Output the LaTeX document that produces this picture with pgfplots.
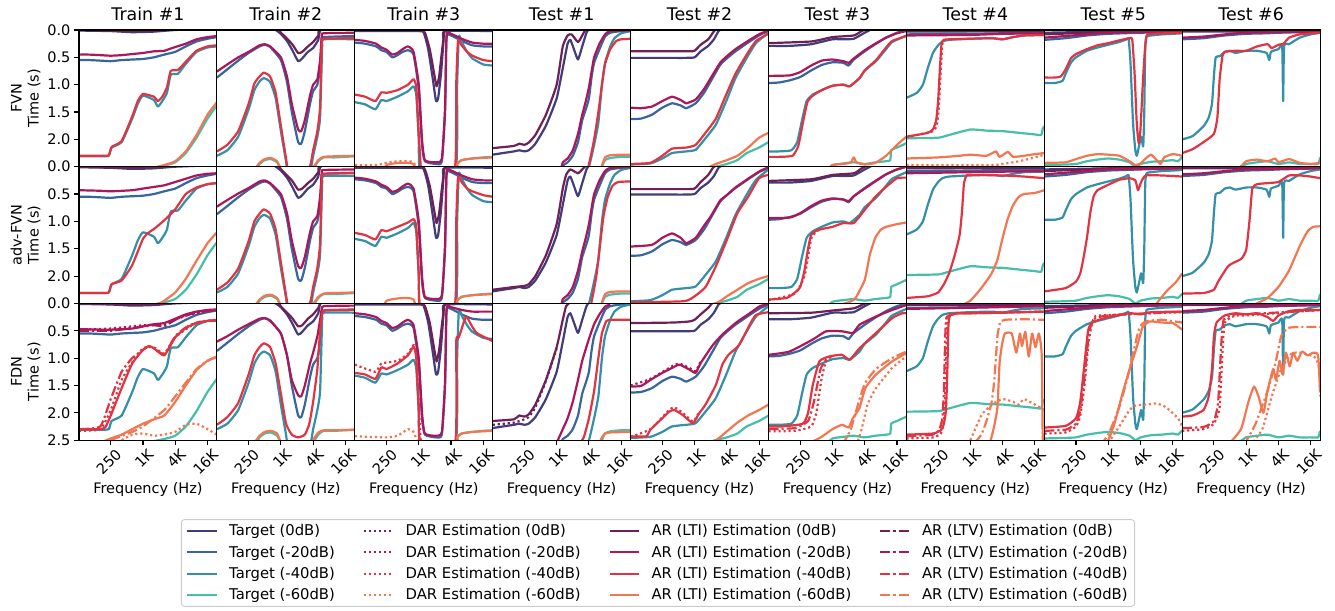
\documentclass[border=0pt]{standalone}
\usepackage{fontspec}
\setmainfont{DejaVu Sans}
\setsansfont{DejaVu Sans}
\usepackage{pgfplots}
\pgfplotsset{compat=1.18}
\pgfkeys{/pgf/number format/assume math mode=true}
\definecolor{cT0}{HTML}{413D7B}
\definecolor{cT1}{HTML}{37659E}
\definecolor{cT2}{HTML}{348FA7}
\definecolor{cT3}{HTML}{45BFAA}
\definecolor{cE0}{HTML}{701F57}
\definecolor{cE1}{HTML}{AD1759}
\definecolor{cE2}{HTML}{E13342}
\definecolor{cE3}{HTML}{F37651}
\newcommand\fnt{\fontsize{14.5}{17}\selectfont}
\tikzset{
 zBase/.style={line width=2.2pt,line join=round,smooth,tension=0.3},
 zT0/.style={zBase,color=cT0},zT1/.style={zBase,color=cT1},
 zT2/.style={zBase,color=cT2},zT3/.style={zBase,color=cT3},
 zD0/.style={zBase,color=cE0,dash pattern=on 2.2pt off 2.8pt},
 zD1/.style={zBase,color=cE1,dash pattern=on 2.2pt off 2.8pt},
 zD2/.style={zBase,color=cE2,dash pattern=on 2.2pt off 2.8pt},
 zD3/.style={zBase,color=cE3,dash pattern=on 2.2pt off 2.8pt},
 zE0/.style={zBase,color=cE0},zE1/.style={zBase,color=cE1},
 zE2/.style={zBase,color=cE2},zE3/.style={zBase,color=cE3},
 zV0/.style={zBase,color=cE0,dash pattern=on 10pt off 3pt on 2.2pt off 3pt},
 zV1/.style={zBase,color=cE1,dash pattern=on 10pt off 3pt on 2.2pt off 3pt},
 zV2/.style={zBase,color=cE2,dash pattern=on 10pt off 3pt on 2.2pt off 3pt},
 zV3/.style={zBase,color=cE3,dash pattern=on 10pt off 3pt on 2.2pt off 3pt},
}
\newcommand\PB[3]{\begin{semilogxaxis}[xmin=64, xmax=24000, ymin=0, ymax=2.5, y dir=reverse,
   scale only axis, width=137.9pt, height=136.7pt, at={(#1pt,#2pt)}, anchor=north west,
   axis on top, axis line style={line width=1.1pt,black},
   tick style={line width=1.1pt,black}, major tick length=5pt, tick align=outside,
   tick pos=left, xtick=\empty, ytick=\empty, minor x tick num=0, minor y tick num=0,
   tick label style={font=\fnt}, label style={font=\fnt},
   title style={font=\fontsize{17.4}{20}\selectfont}, #3]}
\newcommand\zC[2]{\edef\ztmpc{\noexpand\addplot[#1] coordinates {#2};}\ztmpc}
\newcommand\zTG[1]{\zC{zT0}{\csname dat#1tZ\endcsname}\zC{zT1}{\csname dat#1tA\endcsname}\zC{zT2}{\csname dat#1tB\endcsname}\zC{zT3}{\csname dat#1tC\endcsname}}
% ---------------- target data (same for all rows of a column) ----------------
\def\datAtZ{(64,0.01) (250,0.02) (630,0.04) (1600,0.03) (4000,0.0) (24000,-0.03)}
\def\datAtA{(64,0.55) (100,0.55) (160,0.56) (250,0.57) (400,0.55) (630,0.54) (1000,0.53) (1600,0.50) (2500,0.45) (4000,0.40) (6300,0.30) (10000,0.21) (16000,0.16) (24000,0.13)}
\def\datAtB{(64,2.31) (160,2.31) (230,2.30) (260,2.15) (400,2.05) (630,1.62) (800,1.35) (1000,1.20) (1600,1.28) (1900,1.40) (2300,1.30) (2800,1.15) (3300,0.82) (4500,0.80) (6300,0.62) (10000,0.40) (16000,0.32) (24000,0.30)}
\def\datAtC{(64,2.7) (900,2.6) (1600,2.52) (2500,2.48) (4000,2.42) (6300,2.25) (10000,1.97) (16000,1.62) (24000,1.38)}
\def\datBtZ{(64,-0.05) (630,-0.03) (800,0.0) (1000,0.07) (1300,0.20) (1600,0.35) (2100,0.57) (2500,0.52) (3200,0.40) (4000,0.33) (5000,0.18) (5800,-0.02) (24000,-0.05)}
\def\datBtA{(64,0.87) (100,0.72) (160,0.56) (250,0.42) (400,0.30) (500,0.27) (630,0.31) (1000,0.55) (1300,0.95) (1600,1.50) (2100,2.05) (2400,2.08) (2800,1.85) (3500,1.35) (4000,1.12) (4800,1.00) (5400,0.70) (5800,0.20) (6300,0.13) (24000,0.11)}
\def\datBtB{(64,2.30) (100,2.20) (160,1.95) (250,1.45) (320,1.10) (400,0.94) (480,0.88) (630,0.95) (800,1.25) (1000,1.85) (1250,2.40) (1400,2.6) (3400,2.6) (4000,2.30) (4800,1.95) (5400,1.60) (5900,0.30) (6300,0.17) (24000,0.17)}
\def\datBtC{(64,2.7) (300,2.6) (400,2.45) (500,2.38) (650,2.36) (850,2.42) (1000,2.55) (1200,2.7) (3500,2.7) (4000,2.55) (5000,2.40) (6300,2.33) (10000,2.33) (24000,2.31)}
\def\datCtZ{(64,0.02) (1000,0.02) (1250,0.06) (1500,0.35) (1800,0.85) (2100,1.30) (2300,1.25) (2600,0.80) (2900,0.20) (3100,0.02) (24000,0.02)}
\def\datCtA{(64,0.23) (100,0.25) (160,0.30) (200,0.37) (250,0.40) (320,0.50) (400,0.46) (500,0.40) (630,0.37) (800,0.45) (1000,1.10) (1150,2.10) (1300,2.40) (2100,2.45) (2700,2.40) (3100,1.50) (3300,0.15) (4000,0.10) (6300,0.20) (10000,0.28) (16000,0.30) (24000,0.30)}
\def\datCtB{(64,1.32) (100,1.36) (155,1.45) (200,1.28) (250,1.30) (400,1.22) (630,1.12) (800,1.03) (900,1.20) (1000,2.00) (1100,2.6) (4800,2.6) (5200,1.00) (5600,0.12) (6300,0.22) (8000,0.40) (10000,0.52) (16000,0.63) (24000,0.65)}
\def\datCtC{(64,2.7) (4500,2.7) (5200,2.45) (6300,2.38) (10000,2.35) (16000,2.33) (24000,2.32)}
\def\datDtZ{(64,2.28) (100,2.25) (160,2.22) (200,2.20) (250,2.22) (300,2.20) (400,2.08) (630,1.75) (1000,1.25) (1300,0.70) (1600,0.25) (1800,0.18) (2100,0.35) (2500,0.54) (3000,0.30) (3600,0.05) (4000,-0.02)}
\def\datDtA{(64,2.7) (1000,2.6) (1300,2.48) (1600,2.42) (2000,2.30) (2500,2.05) (3000,1.65) (3500,1.45) (4000,1.25) (4500,0.85) (5000,0.60) (6300,0.35) (8000,0.12) (10000,0.05) (16000,0.02) (24000,0.02)}
\def\datDtB{(64,2.7) (3000,2.7) (4000,2.50) (5000,2.10) (6000,1.70) (7000,1.00) (8000,0.60) (10000,0.30) (12000,0.15) (16000,0.06) (24000,0.02)}
\def\datDtC{(64,2.7) (6000,2.7) (7000,2.50) (8000,2.38) (10000,2.34) (16000,2.32) (24000,2.32)}
\def\datEtZ{(64,0.51) (400,0.51) (630,0.51) (1000,0.50) (1300,0.39) (1800,0.29) (2300,0.17) (2800,0.02) (3200,-0.02)}
\def\datEtA{(64,1.63) (100,1.62) (160,1.55) (250,1.42) (380,1.34) (550,1.38) (700,1.43) (1050,1.34) (1500,1.15) (2000,0.94) (3000,0.64) (4000,0.52) (5800,0.39) (10700,0.21) (16600,0.09) (24000,0.02)}
\def\datEtB{(64,2.46) (150,2.44) (250,2.35) (380,2.25) (700,2.22) (1050,2.19) (1600,1.98) (2500,1.73) (3900,1.30) (5800,0.88) (9400,0.51) (14000,0.24) (24000,0.05)}
\def\datEtC{(64,2.7) (1000,2.6) (2500,2.50) (4000,2.45) (6300,2.38) (9400,2.25) (16000,2.15) (24000,2.05)}
\def\datFtZ{(64,0.29) (160,0.29) (400,0.26) (1000,0.17) (1600,0.17) (2500,0.16) (4000,0.05) (5500,-0.02)}
\def\datFtA{(64,0.97) (100,0.96) (160,0.92) (250,0.86) (400,0.74) (630,0.64) (1000,0.59) (1600,0.60) (2000,0.65) (2500,0.54) (4000,0.39) (6300,0.26) (10000,0.14) (16000,0.05) (24000,0.0)}
\def\datFtB{(64,2.22) (100,2.22) (170,2.20) (220,2.05) (270,1.65) (330,1.30) (430,1.18) (630,1.10) (1000,1.02) (1600,1.00) (2100,1.03) (3200,0.88) (4000,0.74) (6500,0.57) (10000,0.35) (13000,0.22) (24000,0.10)}
\def\datFtC{(64,2.7) (630,2.6) (1000,2.47) (1600,2.44) (2500,2.42) (4000,2.45) (6300,2.42) (10000,2.40) (12000,2.38) (12500,2.20) (16000,2.15) (24000,2.07)}
\def\datGtZ{(64,0.02) (24000,0.02)}
\def\datGtA{(64,0.08) (1000,0.07) (4000,0.06) (24000,0.05)}
\def\datGtB{(64,1.24) (100,1.15) (130,1.00) (160,0.70) (200,0.42) (250,0.28) (300,0.21) (400,0.18) (1000,0.16) (2500,0.15) (4000,0.17) (6300,0.13) (10000,0.10) (24000,0.09)}
\def\datGtC{(64,1.98) (250,1.97) (400,1.92) (1000,1.82) (2000,1.84) (4000,1.85) (8000,1.88) (16000,1.91) (21000,1.92) (22500,1.80) (24000,1.76)}
\def\datHtZ{(64,0.05) (1000,0.03) (24000,0.02)}
\def\datHtA{(64,0.18) (160,0.15) (400,0.10) (1000,0.07) (4000,0.05) (24000,0.03)}
\def\datHtB{(64,0.97) (100,0.97) (140,0.93) (160,0.80) (200,0.60) (250,0.50) (400,0.38) (630,0.32) (1000,0.27) (1600,0.22) (2200,0.17) (2400,0.16) (2600,0.60) (2900,1.70) (3200,2.20) (3400,2.30) (3700,2.15) (4100,1.95) (4300,2.05) (4500,2.12) (4700,1.50) (4900,0.30) (5200,0.12) (6300,0.10) (10000,0.08) (16000,0.07) (24000,0.06)}
\def\datHtC{(64,2.47) (160,2.46) (250,2.45) (400,2.40) (630,2.37) (1000,2.35) (1600,2.37) (2500,2.42) (3200,2.50) (4000,2.45) (6300,2.41) (10000,2.40) (16000,2.38) (20000,2.40) (24000,2.32)}
\def\datItZ{(64,0.03) (24000,0.02)}
\def\datItA{(64,0.17) (160,0.15) (400,0.10) (1000,0.07) (2500,0.06) (4000,0.05) (24000,0.03)}
\def\datItB{(64,2.00) (100,1.94) (160,1.76) (200,1.60) (230,1.35) (250,0.84) (270,0.50) (320,0.48) (400,0.40) (500,0.38) (630,0.42) (1000,0.38) (1600,0.38) (2400,0.42) (2700,0.55) (2900,0.40) (4000,0.35) (4700,0.30) (4900,1.30) (5100,0.30) (6300,0.26) (10000,0.14) (16000,0.08) (24000,0.05)}
\def\datItC{(64,2.6) (630,2.55) (1000,2.45) (1600,2.42) (2500,2.40) (4000,2.45) (6300,2.42) (10000,2.45) (16000,2.45) (22000,2.45) (24000,2.33)}
\begin{document}
\begin{tikzpicture}
% ======================= ROW 1 : FVN =======================
\PB{79}{-30}{title={Train \#1}, ylabel={FVN\\Time (s)}, ylabel style={align=center}, ytick={0,0.5,1,1.5,2}, yticklabel style={/pgf/number format/fixed,/pgf/number format/fixed zerofill,/pgf/number format/precision=1}}
\zTG{A}
\addplot[zE0] coordinates {(64,0.0) (630,0.02) (2000,0.01) (6000,-0.03)};
\addplot[zE1] coordinates {(64,0.45) (100,0.45) (160,0.46) (250,0.47) (400,0.46) (630,0.44) (1000,0.42) (1600,0.39) (2500,0.38) (3500,0.33) (6300,0.25) (10000,0.17) (16000,0.13) (24000,0.11)};
\addplot[zE2] coordinates {(64,2.30) (160,2.30) (230,2.29) (260,2.14) (400,2.03) (630,1.58) (800,1.30) (1000,1.17) (1600,1.22) (1900,1.30) (2300,1.22) (2800,1.05) (3300,0.75) (4500,0.73) (6300,0.58) (10000,0.38) (16000,0.30) (24000,0.28)};
\addplot[zE3] coordinates {(64,2.7) (900,2.6) (1600,2.52) (2500,2.47) (4000,2.40) (6300,2.22) (10000,1.92) (16000,1.55) (24000,1.32)};
\end{semilogxaxis}
\PB{216.9}{-30}{title={Train \#2}}
\zTG{B}
\addplot[zE0] coordinates {(64,-0.05) (800,-0.02) (1000,0.05) (1600,0.25) (2100,0.42) (2500,0.40) (3200,0.30) (4000,0.22) (5000,0.10) (5500,-0.02) (24000,-0.05)};
\addplot[zE1] coordinates {(64,0.76) (100,0.63) (160,0.50) (250,0.40) (400,0.28) (500,0.26) (630,0.30) (1000,0.50) (1300,0.85) (1600,1.35) (2100,1.82) (2400,1.85) (2800,1.65) (3500,1.20) (4000,1.00) (4800,0.90) (5400,0.55) (5800,0.10) (6300,0.06) (24000,0.05)};
\addplot[zE2] coordinates {(64,2.22) (100,2.10) (160,1.85) (250,1.35) (320,0.98) (400,0.85) (480,0.78) (630,0.85) (800,1.15) (1000,1.75) (1250,2.35) (1400,2.55) (3000,2.6) (3600,2.45) (4000,2.20) (4800,1.85) (5400,1.40) (5800,0.25) (6300,0.16) (24000,0.15)};
\addplot[zE3] coordinates {(64,2.7) (300,2.55) (400,2.43) (500,2.36) (650,2.34) (850,2.40) (1000,2.55) (1200,2.7) (3500,2.7) (4000,2.52) (5000,2.38) (6300,2.32) (10000,2.31) (24000,2.30)};
\end{semilogxaxis}
\PB{354.8}{-30}{title={Train \#3}}
\zTG{C}
\addplot[zD3] coordinates {(64,2.47) (160,2.47) (250,2.43) (400,2.40) (630,2.40) (800,2.42) (1000,2.6)};
\addplot[zE0] coordinates {(64,0.0) (1000,0.0) (1300,0.05) (1600,0.35) (1900,0.75) (2150,1.03) (2400,0.85) (2700,0.40) (3000,0.05) (3200,-0.02)};
\addplot[zE1] coordinates {(64,0.18) (100,0.20) (160,0.25) (200,0.32) (250,0.36) (320,0.45) (400,0.42) (500,0.35) (630,0.30) (800,0.40) (1000,1.00) (1150,2.0) (1300,2.38) (2100,2.42) (2700,2.35) (3100,1.40) (3300,0.10) (4000,0.07) (6300,0.16) (10000,0.23) (16000,0.25) (24000,0.25)};
\addplot[zE2] coordinates {(64,1.18) (100,1.22) (155,1.30) (200,1.14) (250,1.15) (400,1.10) (630,1.00) (800,0.90) (900,1.05) (1000,1.90) (1100,2.55) (1200,2.6) (4600,2.6) (5000,1.00) (5400,0.20) (6300,0.28) (8000,0.40) (10000,0.47) (16000,0.55) (24000,0.57)};
\addplot[zE3] coordinates {(64,2.6) (200,2.6) (250,2.47) (400,2.43) (630,2.43) (800,2.45) (1000,2.6) (4500,2.6) (5200,2.45) (6300,2.38) (10000,2.35) (24000,2.33)};
\end{semilogxaxis}
\PB{492.7}{-30}{title={Test \#1}}
\zTG{D}
\addplot[zE0] coordinates {(64,2.16) (160,2.12) (200,2.08) (250,2.10) (300,2.06) (400,1.92) (630,1.55) (1000,1.00) (1300,0.30) (1600,0.10) (1900,0.08) (2500,0.22) (3000,0.10) (3500,-0.02)};
\addplot[zE1] coordinates {(64,2.7) (1000,2.6) (1300,2.42) (1600,2.35) (2000,2.20) (2500,1.90) (3000,1.55) (3500,1.30) (4000,1.05) (4500,0.75) (5000,0.50) (6300,0.25) (8000,0.08) (10000,0.02) (24000,0.01)};
\addplot[zE2] coordinates {(64,2.7) (3000,2.7) (4000,2.45) (5000,2.00) (6000,1.50) (7000,1.00) (8000,0.62) (10000,0.35) (13000,0.20) (16000,0.17) (24000,0.16)};
\addplot[zE3] coordinates {(64,2.7) (6000,2.7) (7000,2.48) (8000,2.33) (10000,2.29) (16000,2.28) (24000,2.28)};
\end{semilogxaxis}
\PB{630.6}{-30}{title={Test \#2}}
\zTG{E}
\addplot[zE0] coordinates {(64,0.39) (400,0.39) (800,0.39) (1000,0.38) (1300,0.27) (1800,0.17) (2200,0.05) (2500,-0.02)};
\addplot[zE1] coordinates {(64,1.42) (100,1.43) (160,1.40) (250,1.30) (380,1.22) (550,1.28) (700,1.34) (1050,1.27) (1500,1.08) (2000,0.88) (3000,0.60) (4000,0.48) (5800,0.35) (10700,0.18) (16600,0.07) (24000,0.01)};
\addplot[zE2] coordinates {(64,2.45) (150,2.43) (250,2.30) (380,2.17) (700,2.15) (1050,2.10) (1600,1.88) (2500,1.62) (3900,1.18) (5800,0.80) (9400,0.45) (14000,0.20) (24000,0.07)};
\addplot[zE3] coordinates {(64,2.7) (1000,2.6) (2500,2.45) (4000,2.38) (6300,2.30) (10000,2.15) (16000,1.97) (24000,1.88)};
\end{semilogxaxis}
\PB{768.5}{-30}{title={Test \#3}}
\zTG{F}
\addplot[zE0] coordinates {(64,0.24) (400,0.21) (1000,0.13) (2500,0.10) (3500,0.02) (4500,-0.02)};
\addplot[zE1] coordinates {(64,0.84) (160,0.83) (250,0.77) (400,0.65) (630,0.56) (1000,0.54) (1600,0.57) (2000,0.60) (2500,0.52) (4000,0.37) (6300,0.25) (10000,0.14) (16000,0.06) (24000,0.02)};
\addplot[zE2] coordinates {(64,2.32) (100,2.32) (180,2.30) (230,2.12) (280,1.70) (340,1.32) (430,1.20) (630,1.10) (1000,1.02) (1600,1.00) (2100,1.03) (3200,0.88) (4000,0.74) (6500,0.55) (10000,0.32) (13000,0.20) (24000,0.11)};
\addplot[zE3] coordinates {(64,2.7) (630,2.6) (1000,2.47) (1600,2.45) (2200,2.42) (2500,2.33) (2800,2.42) (4000,2.46) (6300,2.43) (10000,2.30) (16000,2.10) (24000,1.95)};
\end{semilogxaxis}
\PB{906.4}{-30}{title={Test \#4}}
\zTG{G}
\addplot[zD2] coordinates {(64,1.96) (200,1.85) (240,1.70) (260,1.35) (280,0.75) (300,0.25) (330,0.18)};
\addplot[zD3] coordinates {(64,2.47) (2500,2.47) (4000,2.45) (6300,2.42) (10000,2.38) (16000,2.33) (24000,2.28)};
\addplot[zE0] coordinates {(64,0.03) (24000,0.02)};
\addplot[zE1] coordinates {(64,0.10) (1000,0.09) (4000,0.07) (24000,0.06)};
\addplot[zE2] coordinates {(64,1.95) (100,1.92) (160,1.88) (200,1.82) (230,1.65) (250,1.30) (270,0.70) (290,0.25) (320,0.18) (400,0.17) (1000,0.16) (2500,0.15) (4000,0.17) (6300,0.13) (10000,0.10) (24000,0.09)};
\addplot[zE3] coordinates {(64,2.35) (250,2.33) (630,2.30) (1000,2.28) (2000,2.30) (3000,2.22) (3500,2.32) (5000,2.23) (6300,2.32) (10000,2.30) (16000,2.27) (24000,2.25)};
\end{semilogxaxis}
\PB{1044.3}{-30}{title={Test \#5}}
\zTG{H}
\addplot[zE0] coordinates {(64,0.08) (400,0.05) (1000,0.03) (24000,0.02)};
\addplot[zE1] coordinates {(64,0.14) (400,0.08) (1000,0.05) (24000,0.03)};
\addplot[zE2] coordinates {(64,0.87) (100,0.87) (130,0.85) (160,0.72) (200,0.52) (250,0.44) (400,0.35) (630,0.28) (1000,0.24) (1600,0.19) (2500,0.15) (2800,0.17) (3100,0.80) (3400,1.70) (3700,2.07) (4000,1.80) (4400,1.00) (4800,0.40) (5200,0.10) (6300,0.07) (24000,0.05)};
\addplot[zE3] coordinates {(64,2.43) (160,2.42) (250,2.36) (400,2.30) (630,2.27) (1000,2.28) (1600,2.30) (2500,2.40) (3200,2.47) (4000,2.44) (5000,2.35) (6300,2.28) (8000,2.38) (9500,2.45) (11000,2.33) (16000,2.27) (24000,2.30)};
\end{semilogxaxis}
\PB{1182.2}{-30}{title={Test \#6}}
\zTG{I}
\addplot[zE0] coordinates {(64,0.02) (24000,0.02)};
\addplot[zE1] coordinates {(64,0.14) (160,0.12) (400,0.08) (1000,0.05) (24000,0.03)};
\addplot[zE2] coordinates {(64,2.25) (100,2.18) (160,2.05) (250,1.90) (290,1.60) (320,0.90) (360,0.48) (400,0.40) (630,0.38) (1000,0.38) (1600,0.30) (2500,0.26) (3000,0.33) (4000,0.27) (5000,0.25) (6300,0.14) (10000,0.08) (24000,0.05)};
\addplot[zE3] coordinates {(64,2.6) (630,2.55) (1000,2.40) (1600,2.37) (2500,2.40) (3500,2.35) (4000,2.42) (6300,2.36) (10000,2.43) (16000,2.45) (24000,2.43)};
\end{semilogxaxis}
% ======================= ROW 2 : adv-FVN =======================
\PB{79}{-166.7}{ylabel={adv-FVN\\Time (s)}, ylabel style={align=center}, ytick={0,0.5,1,1.5,2}, yticklabel style={/pgf/number format/fixed,/pgf/number format/fixed zerofill,/pgf/number format/precision=1}}
\zTG{A}
\addplot[zE0] coordinates {(64,0.0) (630,0.02) (2000,0.01) (6000,-0.03)};
\addplot[zE1] coordinates {(64,0.43) (160,0.44) (250,0.45) (630,0.43) (1000,0.40) (1600,0.37) (2500,0.34) (4000,0.28) (6300,0.22) (10000,0.16) (16000,0.13) (24000,0.12)};
\addplot[zE2] coordinates {(64,2.31) (160,2.31) (230,2.30) (260,2.15) (400,2.08) (630,1.80) (1000,1.32) (1300,1.20) (1600,1.14) (2500,0.98) (4000,0.78) (6300,0.50) (10000,0.38) (16000,0.32) (24000,0.30)};
\addplot[zE3] coordinates {(64,2.7) (900,2.6) (2000,2.50) (2500,2.45) (4000,2.30) (6300,2.05) (10000,1.72) (16000,1.40) (24000,1.20)};
\end{semilogxaxis}
\PB{216.9}{-166.7}{}
\zTG{B}
\addplot[zE0] coordinates {(64,-0.05) (800,-0.02) (1000,0.05) (1600,0.25) (2100,0.42) (2500,0.40) (3200,0.30) (4000,0.22) (5000,0.10) (5500,-0.02) (24000,-0.05)};
\addplot[zE1] coordinates {(64,0.73) (100,0.61) (160,0.49) (250,0.39) (400,0.27) (500,0.25) (630,0.30) (1000,0.50) (1300,0.85) (1600,1.35) (2100,1.82) (2400,1.85) (2800,1.65) (3500,1.20) (4000,1.00) (4800,0.90) (5400,0.55) (5800,0.10) (6300,0.06) (24000,0.05)};
\addplot[zE2] coordinates {(64,2.25) (100,2.12) (160,1.86) (250,1.36) (320,1.0) (400,0.86) (480,0.78) (630,0.86) (800,1.15) (1000,1.75) (1250,2.35) (1400,2.55) (3000,2.6) (3600,2.45) (4000,2.20) (4800,1.85) (5400,1.40) (5800,0.22) (6300,0.13) (24000,0.12)};
\addplot[zE3] coordinates {(64,2.7) (300,2.55) (400,2.43) (500,2.36) (650,2.34) (850,2.40) (1000,2.55) (1200,2.7) (3500,2.7) (4000,2.52) (5000,2.38) (6300,2.32) (10000,2.31) (24000,2.30)};
\end{semilogxaxis}
\PB{354.8}{-166.7}{}
\zTG{C}
\addplot[zE0] coordinates {(64,0.0) (1000,0.0) (1300,0.05) (1600,0.35) (1900,0.75) (2150,1.03) (2400,0.85) (2700,0.40) (3000,0.05) (3200,-0.02)};
\addplot[zE1] coordinates {(64,0.20) (100,0.22) (160,0.27) (200,0.33) (250,0.37) (320,0.46) (400,0.43) (500,0.36) (630,0.31) (800,0.40) (1000,1.00) (1150,2.0) (1300,2.38) (2100,2.42) (2700,2.35) (3100,1.40) (3300,0.10) (4000,0.07) (6300,0.16) (10000,0.23) (16000,0.25) (24000,0.25)};
\addplot[zE2] coordinates {(64,1.21) (100,1.25) (155,1.33) (200,1.16) (250,1.18) (400,1.10) (630,1.02) (800,0.96) (900,1.10) (1000,1.95) (1100,2.6) (4600,2.6) (5000,1.00) (5400,0.20) (6300,0.28) (8000,0.40) (10000,0.45) (16000,0.52) (24000,0.55)};
\addplot[zE3] coordinates {(64,2.6) (200,2.6) (250,2.45) (400,2.41) (630,2.40) (800,2.43) (1000,2.6) (4500,2.6) (5200,2.45) (6300,2.38) (10000,2.35) (24000,2.33)};
\end{semilogxaxis}
\PB{492.7}{-166.7}{}
\zTG{D}
\addplot[zE0] coordinates {(64,2.25) (160,2.20) (250,2.18) (300,2.15) (400,2.00) (630,1.62) (1000,1.05) (1300,0.40) (1500,0.15) (1800,0.05) (2500,0.12) (3000,0.05) (3500,-0.02)};
\addplot[zE1] coordinates {(64,2.7) (1000,2.6) (1300,2.42) (1600,2.35) (2000,2.20) (2500,1.90) (3000,1.55) (3500,1.30) (4000,1.05) (4500,0.75) (5000,0.50) (6300,0.25) (8000,0.08) (10000,0.02) (24000,0.01)};
\addplot[zE2] coordinates {(64,2.7) (3500,2.7) (4500,2.45) (5500,2.00) (6500,1.40) (7500,0.90) (9000,0.55) (11000,0.35) (14000,0.28) (24000,0.27)};
\addplot[zE3] coordinates {(64,2.7) (6000,2.7) (7000,2.48) (8000,2.33) (10000,2.29) (16000,2.28) (24000,2.28)};
\end{semilogxaxis}
\PB{630.6}{-166.7}{}
\zTG{E}
\addplot[zE0] coordinates {(64,0.41) (630,0.41) (1000,0.40) (1300,0.28) (1800,0.15) (2200,0.02) (2500,-0.02)};
\addplot[zE1] coordinates {(64,1.46) (160,1.43) (250,1.30) (380,1.22) (550,1.30) (700,1.40) (1050,1.30) (1500,1.08) (2000,0.91) (3000,0.62) (4000,0.52) (5800,0.38) (10700,0.20) (16600,0.08) (24000,0.01)};
\addplot[zE2] coordinates {(64,2.48) (630,2.46) (1000,2.37) (1600,2.20) (2500,1.82) (4000,1.34) (6300,0.85) (10000,0.55) (16000,0.21) (24000,0.15)};
\addplot[zE3] coordinates {(64,2.7) (1000,2.55) (2500,2.50) (4000,2.37) (6300,2.25) (10000,2.13) (16000,2.05) (24000,2.00)};
\end{semilogxaxis}
\PB{768.5}{-166.7}{}
\zTG{F}
\addplot[zD2] coordinates {(64,2.44) (200,2.32) (300,2.0) (350,1.65) (400,1.32) (500,1.18) (630,1.14)};
\addplot[zE0] coordinates {(64,0.26) (400,0.23) (1000,0.15) (2500,0.12) (3500,0.03) (4500,-0.02)};
\addplot[zE1] coordinates {(64,0.94) (160,0.93) (250,0.85) (400,0.72) (630,0.62) (1000,0.58) (1600,0.60) (2000,0.63) (2500,0.54) (4000,0.40) (6300,0.27) (10000,0.14) (16000,0.05) (24000,0.0)};
\addplot[zE2] coordinates {(64,2.43) (140,2.40) (200,2.30) (250,2.20) (300,1.90) (350,1.50) (400,1.25) (500,1.17) (630,1.14) (1000,1.10) (1600,1.03) (2500,1.03) (4000,0.79) (6300,0.55) (10000,0.37) (16000,0.21) (24000,0.20)};
\addplot[zE3] coordinates {(64,2.7) (1000,2.55) (2000,2.48) (2700,2.40) (4000,2.07) (5000,1.60) (6300,1.30) (8000,1.15) (10000,1.10) (16000,1.05) (24000,1.02)};
\end{semilogxaxis}
\PB{906.4}{-166.7}{}
\zTG{G}
\addplot[zE0] coordinates {(64,0.03) (24000,0.02)};
\addplot[zE1] coordinates {(64,0.12) (1000,0.10) (24000,0.08)};
\addplot[zE2] coordinates {(64,2.40) (160,2.37) (250,2.30) (320,2.15) (400,1.95) (500,1.65) (630,1.25) (700,0.80) (760,0.30) (850,0.16) (1000,0.15) (4000,0.16) (10000,0.18) (24000,0.21)};
\addplot[zE3] coordinates {(630,2.55) (1000,2.45) (1600,2.22) (2500,1.95) (3200,1.70) (4000,1.30) (5000,0.95) (6300,0.70) (8000,0.55) (10000,0.50) (16000,0.48) (24000,0.43)};
\end{semilogxaxis}
\PB{1044.3}{-166.7}{}
\zTG{H}
\addplot[zE0] coordinates {(64,0.08) (400,0.05) (1000,0.03) (24000,0.02)};
\addplot[zE1] coordinates {(64,0.14) (400,0.08) (1000,0.05) (24000,0.03)};
\addplot[zE2] coordinates {(64,2.28) (160,2.22) (250,2.10) (300,1.95) (340,1.70) (400,1.30) (460,0.85) (530,0.55) (630,0.43) (1000,0.33) (1600,0.24) (2500,0.21) (3200,0.25) (3600,0.43) (4100,0.28) (5000,0.16) (10000,0.16) (24000,0.18)};
\addplot[zE3] coordinates {(6000,2.7) (8000,2.50) (10000,2.38) (13000,2.25) (18000,2.12) (24000,1.95)};
\end{semilogxaxis}
\PB{1182.2}{-166.7}{}
\zTG{I}
\addplot[zE0] coordinates {(64,0.02) (24000,0.02)};
\addplot[zE1] coordinates {(64,0.14) (160,0.12) (400,0.08) (1000,0.05) (24000,0.03)};
\addplot[zE2] coordinates {(64,2.32) (160,2.31) (250,2.25) (300,2.10) (460,1.82) (630,1.74) (820,1.68) (1000,1.52) (1150,1.00) (1300,0.40) (1600,0.32) (2500,0.30) (4000,0.28) (6300,0.16) (10000,0.16) (16000,0.18) (24000,0.21)};
\addplot[zE3] coordinates {(1000,2.6) (1600,2.50) (2500,2.40) (4000,2.20) (6300,1.90) (10000,1.45) (14000,1.18) (18000,1.10) (24000,1.09)};
\end{semilogxaxis}
% ======================= ROW 3 : FDN =======================
\PB{79}{-303.4}{ylabel={FDN\\Time (s)}, ylabel style={align=center}, ytick={0,0.5,1,1.5,2,2.5}, yticklabel style={/pgf/number format/fixed,/pgf/number format/fixed zerofill,/pgf/number format/precision=1}, xtick={250,1000,4000,16000}, xticklabels={\mbox{250},\mbox{1K},\mbox{4K},\mbox{16K}}, xticklabel style={xshift=4pt, rotate=45, anchor=north east, inner sep=2pt}, xlabel={Frequency (Hz)}}
\zTG{A}
\addplot[zD1] coordinates {(64,0.48) (250,0.46) (1000,0.40) (2500,0.38) (6300,0.22) (24000,0.12)};
\addplot[zD2] coordinates {(64,2.33) (160,2.30) (250,1.95) (400,1.40) (630,1.08) (1000,0.82) (1600,0.80) (2500,0.92) (4000,0.62) (10000,0.35) (24000,0.30)};
\addplot[zD3] coordinates {(400,2.50) (630,2.40) (1000,2.38) (1600,2.42) (2500,2.40) (4000,2.35) (6300,2.22) (10000,2.20) (16000,2.30) (24000,2.40)};
\addplot[zE0] coordinates {(64,0.0) (630,0.02) (2000,0.01) (6000,-0.03)};
\addplot[zE1] coordinates {(64,0.47) (160,0.48) (250,0.48) (630,0.46) (1000,0.42) (1600,0.38) (2500,0.36) (4000,0.28) (6300,0.20) (10000,0.15) (16000,0.12) (24000,0.11)};
\addplot[zE2] coordinates {(64,2.30) (160,2.30) (200,2.26) (250,2.05) (400,1.55) (630,1.10) (1000,0.85) (1300,0.78) (1600,0.82) (2500,0.95) (4000,0.62) (6300,0.45) (10000,0.36) (16000,0.32) (24000,0.32)};
\addplot[zE3] coordinates {(160,2.55) (250,2.47) (400,2.40) (630,2.30) (1000,2.20) (1600,2.12) (2500,2.05) (4000,1.80) (6300,1.50) (10000,1.22) (16000,1.05) (24000,0.97)};
\addplot[zV1] coordinates {(64,0.50) (250,0.50) (630,0.45) (1600,0.40) (2500,0.42) (4000,0.30) (10000,0.16) (24000,0.12)};
\addplot[zV2] coordinates {(64,2.30) (160,2.25) (250,1.75) (400,1.25) (630,1.00) (1000,0.85) (1300,0.78) (1600,0.82) (2500,0.93) (4000,0.60) (6300,0.44) (10000,0.35) (24000,0.31)};
\addplot[zV3] coordinates {(250,2.5) (630,2.35) (1000,2.25) (2500,1.95) (4000,1.70) (6300,1.45) (10000,1.20) (16000,1.05) (24000,0.98)};
\end{semilogxaxis}
\PB{216.9}{-303.4}{xtick={250,1000,4000,16000}, xticklabels={\mbox{250},\mbox{1K},\mbox{4K},\mbox{16K}}, xticklabel style={xshift=4pt, rotate=45, anchor=north east, inner sep=2pt}, xlabel={Frequency (Hz)}}
\zTG{B}
\addplot[zE0] coordinates {(64,-0.05) (800,-0.02) (1000,0.06) (1600,0.26) (2100,0.42) (2500,0.40) (3200,0.28) (4000,0.20) (5000,0.08) (5500,-0.03)};
\addplot[zE1] coordinates {(64,0.70) (100,0.60) (160,0.48) (250,0.38) (400,0.28) (500,0.27) (630,0.32) (1000,0.55) (1300,0.95) (1600,1.40) (2100,1.68) (2400,1.70) (2800,1.50) (3500,1.10) (4000,0.90) (4800,0.60) (5400,0.30) (5800,0.10) (6300,0.05) (24000,0.04)};
\addplot[zE2] coordinates {(64,2.22) (100,2.08) (160,1.82) (250,1.30) (320,0.95) (400,0.80) (480,0.73) (630,0.80) (800,1.10) (1000,1.65) (1250,2.20) (1600,2.40) (2100,2.45) (2800,2.40) (3400,2.20) (4000,1.80) (4800,1.20) (5400,0.50) (6000,0.15) (8000,0.12) (24000,0.12)};
\addplot[zE3] coordinates {(64,2.7) (300,2.55) (400,2.42) (500,2.35) (650,2.33) (850,2.38) (1000,2.55) (1200,2.7) (3500,2.7) (4000,2.50) (5000,2.36) (6300,2.32) (10000,2.32) (24000,2.31)};
\end{semilogxaxis}
\PB{354.8}{-303.4}{xtick={250,1000,4000,16000}, xticklabels={\mbox{250},\mbox{1K},\mbox{4K},\mbox{16K}}, xticklabel style={xshift=4pt, rotate=45, anchor=north east, inner sep=2pt}, xlabel={Frequency (Hz)}}
\zTG{C}
\addplot[zD2] coordinates {(64,1.12) (155,1.25) (200,1.10) (400,1.05) (630,0.92) (800,0.76) (900,0.95) (1000,1.85) (1100,2.6)};
\addplot[zD3] coordinates {(64,2.43) (250,2.45) (400,2.42) (630,2.30) (800,2.35) (1000,2.6)};
\addplot[zE0] coordinates {(64,0.0) (1000,0.0) (1300,0.05) (1600,0.35) (1900,0.78) (2150,1.06) (2400,0.85) (2700,0.40) (3000,0.05) (3200,-0.02)};
\addplot[zE1] coordinates {(64,0.18) (100,0.20) (160,0.25) (200,0.32) (250,0.36) (320,0.45) (400,0.42) (500,0.35) (630,0.30) (800,0.40) (1000,1.00) (1150,2.0) (1300,2.38) (2100,2.42) (2700,2.35) (3100,1.40) (3300,0.10) (4000,0.07) (6300,0.12) (10000,0.15) (16000,0.15) (24000,0.15)};
\addplot[zE2] coordinates {(64,1.27) (100,1.30) (155,1.38) (200,1.17) (250,1.20) (400,1.10) (630,0.95) (800,0.79) (900,1.00) (1000,1.90) (1100,2.6) (4700,2.6) (5000,0.70) (5600,0.62) (7600,0.24) (9000,0.35) (12000,0.54) (24000,0.69)};
\addplot[zE3] coordinates {(64,2.6) (4500,2.6) (5200,2.45) (6300,2.38) (10000,2.35) (24000,2.33)};
\end{semilogxaxis}
\PB{492.7}{-303.4}{xtick={250,1000,4000,16000}, xticklabels={\mbox{250},\mbox{1K},\mbox{4K},\mbox{16K}}, xticklabel style={xshift=4pt, rotate=45, anchor=north east, inner sep=2pt}, xlabel={Frequency (Hz)}}
\zTG{D}
\addplot[zD0] coordinates {(64,2.22) (160,2.18) (250,2.12) (300,2.08) (400,1.90) (630,1.42) (1000,0.82)};
\addplot[zE0] coordinates {(64,2.15) (160,2.12) (200,2.05) (250,2.07) (300,2.03) (400,1.85) (630,1.40) (1000,0.80) (1300,0.30) (1500,0.05) (1800,-0.02)};
\addplot[zE1] coordinates {(1000,2.55) (1300,2.30) (1600,2.10) (2000,1.80) (2500,1.40) (3000,1.05) (4000,0.65) (5000,0.38) (6300,0.20) (8000,0.06) (10000,0.02)};
\addplot[zE2] coordinates {(2500,2.6) (3200,2.45) (4000,2.10) (5000,1.60) (6000,1.00) (7000,0.55) (8500,0.32) (11000,0.30) (24000,0.30)};
\addplot[zE3] coordinates {(6000,2.6) (7000,2.45) (8000,2.38) (10000,2.36) (24000,2.35)};
\end{semilogxaxis}
\PB{630.6}{-303.4}{xtick={250,1000,4000,16000}, xticklabels={\mbox{250},\mbox{1K},\mbox{4K},\mbox{16K}}, xticklabel style={xshift=4pt, rotate=45, anchor=north east, inner sep=2pt}, xlabel={Frequency (Hz)}}
\zTG{E}
\addplot[zD1] coordinates {(64,1.50) (150,1.38) (380,1.15) (520,1.10) (800,1.18) (1050,1.24) (1300,1.06)};
\addplot[zD2] coordinates {(64,2.44) (150,2.30) (335,1.95) (420,1.90) (600,2.00) (930,2.16) (1200,2.0)};
\addplot[zE0] coordinates {(64,0.36) (400,0.35) (800,0.33) (1000,0.30) (1300,0.20) (1800,0.08) (2200,-0.02)};
\addplot[zE1] coordinates {(64,1.52) (100,1.51) (150,1.40) (250,1.27) (380,1.18) (520,1.12) (800,1.21) (1050,1.27) (1300,1.09) (2200,0.76) (3300,0.57) (5800,0.36) (10700,0.18) (16600,0.05) (24000,0.01)};
\addplot[zE2] coordinates {(64,2.43) (125,2.43) (150,2.31) (250,2.10) (335,1.98) (420,1.95) (600,2.04) (930,2.19) (1200,2.02) (1600,1.85) (2500,1.49) (3300,1.12) (4300,0.94) (6800,0.76) (10700,0.39) (14000,0.21) (24000,0.16)};
\addplot[zE3] coordinates {(64,2.7) (1000,2.6) (2500,2.50) (4000,2.34) (6300,2.18) (10000,2.05) (16000,1.95) (24000,1.85)};
\end{semilogxaxis}
\PB{768.5}{-303.4}{xtick={250,1000,4000,16000}, xticklabels={\mbox{250},\mbox{1K},\mbox{4K},\mbox{16K}}, xticklabel style={xshift=4pt, rotate=45, anchor=north east, inner sep=2pt}, xlabel={Frequency (Hz)}}
\zTG{F}
\addplot[zD2] coordinates {(64,2.34) (200,2.33) (400,2.25) (500,2.0) (620,1.40) (760,1.05) (1000,0.97)};
\addplot[zD3] coordinates {(2800,2.6) (3500,2.30) (4500,1.85) (6500,1.55) (13000,1.18) (24000,0.97)};
\addplot[zE0] coordinates {(64,0.18) (400,0.17) (1000,0.13) (2500,0.09) (3500,0.03) (4500,-0.02)};
\addplot[zE1] coordinates {(64,0.94) (158,0.88) (430,0.66) (760,0.51) (1500,0.51) (2400,0.54) (3200,0.39) (6500,0.24) (13000,0.12) (24000,0.03)};
\addplot[zE2] coordinates {(64,2.25) (115,2.25) (280,2.20) (350,2.0) (430,1.49) (570,1.06) (880,0.97) (1500,0.94) (2100,1.03) (3200,0.82) (6500,0.54) (13000,0.27) (20000,0.18) (24000,0.18)};
\addplot[zE3] coordinates {(300,2.6) (600,2.45) (1000,2.30) (1500,2.22) (2000,2.27) (2400,2.10) (3200,1.91) (4100,1.55) (6500,1.30) (13000,1.06) (24000,0.91)};
\addplot[zV2] coordinates {(64,2.30) (200,2.28) (350,2.15) (450,1.80) (600,1.20) (800,1.00) (1000,0.96)};
\addplot[zV3] coordinates {(1500,2.6) (2200,2.30) (3200,1.75) (4100,1.45) (6500,1.20) (13000,1.0) (24000,0.88)};
\end{semilogxaxis}
\PB{906.4}{-303.4}{xtick={250,1000,4000,16000}, xticklabels={\mbox{250},\mbox{1K},\mbox{4K},\mbox{16K}}, xticklabel style={xshift=4pt, rotate=45, anchor=north east, inner sep=2pt}, xlabel={Frequency (Hz)}}
\zTG{G}
\addplot[zD2] coordinates {(64,2.47) (200,2.45) (280,2.38) (320,2.15) (345,1.40) (365,0.50) (390,0.22) (600,0.18) (24000,0.15)};
\addplot[zD3] coordinates {(1000,2.50) (1600,2.05) (2500,1.85) (4000,1.75) (6300,1.80) (8000,1.85) (10000,1.75) (16000,1.85) (24000,1.95)};
\addplot[zE0] coordinates {(64,0.02) (24000,0.02)};
\addplot[zE1] coordinates {(64,0.10) (1000,0.08) (24000,0.05)};
\addplot[zE2] coordinates {(64,2.40) (200,2.38) (280,2.32) (320,2.20) (350,1.95) (370,1.30) (390,0.40) (420,0.22) (600,0.18) (1000,0.18) (4000,0.17) (24000,0.15)};
\addplot[zE3] coordinates {(1400,2.7) (2200,2.60) (2700,2.30) (3200,1.90) (3500,1.10) (3900,0.75) (4400,0.55) (5900,0.55) (7200,0.90) (8400,0.55) (9200,0.78) (10600,0.52) (12300,0.97) (14200,0.55) (16400,0.80) (19000,0.55) (21500,0.95) (22500,2.6) (24000,2.6)};
\addplot[zV2] coordinates {(64,2.43) (200,2.40) (260,2.32) (300,2.10) (320,1.60) (340,0.60) (360,0.25) (600,0.18) (1000,0.18) (24000,0.15)};
\addplot[zV3] coordinates {(1200,2.55) (1600,2.40) (2000,2.15) (2500,1.80) (2800,1.40) (3200,0.60) (3600,0.35) (4400,0.30) (10000,0.29) (24000,0.30)};
\end{semilogxaxis}
\PB{1044.3}{-303.4}{xtick={250,1000,4000,16000}, xticklabels={\mbox{250},\mbox{1K},\mbox{4K},\mbox{16K}}, xticklabel style={xshift=4pt, rotate=45, anchor=north east, inner sep=2pt}, xlabel={Frequency (Hz)}}
\zTG{H}
\addplot[zD2] coordinates {(64,2.38) (160,2.36) (250,2.25) (300,2.05) (360,1.50) (430,0.70) (520,0.30) (700,0.22) (24000,0.16)};
\addplot[zD3] coordinates {(1000,2.55) (1600,2.25) (2500,1.95) (3200,1.87) (5000,1.85) (8000,1.83) (12000,1.90) (20000,2.10) (24000,2.25)};
\addplot[zE0] coordinates {(64,0.08) (400,0.05) (1000,0.03) (24000,0.02)};
\addplot[zE1] coordinates {(64,0.14) (400,0.08) (1000,0.05) (24000,0.03)};
\addplot[zE2] coordinates {(64,2.27) (160,2.24) (250,2.10) (300,1.80) (360,1.10) (420,0.50) (500,0.35) (1000,0.25) (2500,0.18) (4000,0.20) (6300,0.16) (24000,0.15)};
\addplot[zE3] coordinates {(800,2.6) (1000,2.5) (1300,2.2) (1900,1.6) (2600,1.15) (3400,0.80) (4400,0.43) (6000,0.33) (10000,0.35) (16000,0.36) (20000,0.42) (24000,0.48)};
\addplot[zV2] coordinates {(64,2.33) (160,2.31) (250,2.20) (300,1.95) (360,1.35) (430,0.60) (520,0.30) (1000,0.22) (24000,0.15)};
\addplot[zV3] coordinates {(700,2.6) (1000,2.4) (1600,1.9) (2300,1.35) (3000,0.85) (3800,0.45) (5000,0.33) (10000,0.30) (24000,0.35)};
\end{semilogxaxis}
\PB{1182.2}{-303.4}{xtick={250,1000,4000,16000}, xticklabels={\mbox{250},\mbox{1K},\mbox{4K},\mbox{16K}}, xticklabel style={xshift=4pt, rotate=45, anchor=north east, inner sep=2pt}, xlabel={Frequency (Hz)}}
\zTG{I}
\addplot[zD2] coordinates {(64,2.33) (160,2.30) (250,2.20) (320,1.90) (360,0.90) (400,0.35) (630,0.22) (1000,0.22) (24000,0.12)};
\addplot[zD3] coordinates {(1200,2.6) (2000,2.30) (3000,1.70) (4500,1.20) (7000,0.92) (10000,0.90) (16000,0.95) (20000,1.0) (23000,1.2) (24000,1.7)};
\addplot[zE0] coordinates {(64,0.02) (24000,0.02)};
\addplot[zE1] coordinates {(64,0.14) (160,0.12) (400,0.08) (1000,0.05) (24000,0.03)};
\addplot[zE2] coordinates {(64,2.07) (100,2.05) (160,1.95) (200,1.70) (230,1.20) (250,0.60) (280,0.35) (400,0.22) (630,0.18) (1000,0.20) (1600,0.18) (2500,0.25) (3200,0.32) (4000,0.22) (6300,0.14) (10000,0.12) (24000,0.12)};
\addplot[zE3] coordinates {(450,2.6) (800,2.3) (1100,1.8) (1400,1.52) (1700,1.70) (2100,2.0) (2500,1.60) (3200,1.20) (3600,1.40) (4200,1.05) (4800,1.30) (5500,0.90) (6500,1.15) (7500,0.90) (9000,1.05) (11000,0.88) (14000,0.95) (18000,0.90) (22000,0.95) (24000,1.60)};
\addplot[zV2] coordinates {(64,2.28) (160,2.26) (250,2.15) (300,1.80) (340,0.80) (380,0.30) (630,0.20) (1000,0.20) (24000,0.12)};
\addplot[zV3] coordinates {(900,2.6) (1500,2.2) (2500,1.60) (3500,1.10) (4500,0.60) (6000,0.45) (10000,0.43) (24000,0.43)};
\end{semilogxaxis}
% ======================= LEGEND =======================
\begin{axis}[at={(658pt,-563pt)}, anchor=center, hide axis, scale only axis, width=10pt, height=10pt,
  xmin=0, xmax=1, ymin=0, ymax=1,
  legend columns=4, transpose legend, legend cell align=left,
  legend image code/.code={\draw[#1,sharp plot] (0pt,0pt) -- (29.6pt,0pt);},
  legend style={at={(0.5,0.5)}, anchor=center, draw=black!20, line width=0.9pt, rounded corners=3pt,
    font=\fontsize{14.8}{17}\selectfont, inner xsep=5pt, inner ysep=3pt, row sep=4.6pt,
    /tikz/every odd column/.append style={column sep=9pt},
    /tikz/every even column/.append style={column sep=26pt}}]
\addlegendimage{zT0}\addlegendentry{Target (0dB)}
\addlegendimage{zT1}\addlegendentry{Target (-20dB)}
\addlegendimage{zT2}\addlegendentry{Target (-40dB)}
\addlegendimage{zT3}\addlegendentry{Target (-60dB)}
\addlegendimage{zD0}\addlegendentry{DAR Estimation (0dB)}
\addlegendimage{zD1}\addlegendentry{DAR Estimation (-20dB)}
\addlegendimage{zD2}\addlegendentry{DAR Estimation (-40dB)}
\addlegendimage{zD3}\addlegendentry{DAR Estimation (-60dB)}
\addlegendimage{zE0}\addlegendentry{AR (LTI) Estimation (0dB)}
\addlegendimage{zE1}\addlegendentry{AR (LTI) Estimation (-20dB)}
\addlegendimage{zE2}\addlegendentry{AR (LTI) Estimation (-40dB)}
\addlegendimage{zE3}\addlegendentry{AR (LTI) Estimation (-60dB)}
\addlegendimage{zV0}\addlegendentry{AR (LTV) Estimation (0dB)}
\addlegendimage{zV1}\addlegendentry{AR (LTV) Estimation (-20dB)}
\addlegendimage{zV2}\addlegendentry{AR (LTV) Estimation (-40dB)}
\addlegendimage{zV3}\addlegendentry{AR (LTV) Estimation (-60dB)}
\end{axis}
\pgfresetboundingbox
\path[use as bounding box] (0pt,0pt) rectangle (1335pt,-610pt);
\end{tikzpicture}
\end{document}
